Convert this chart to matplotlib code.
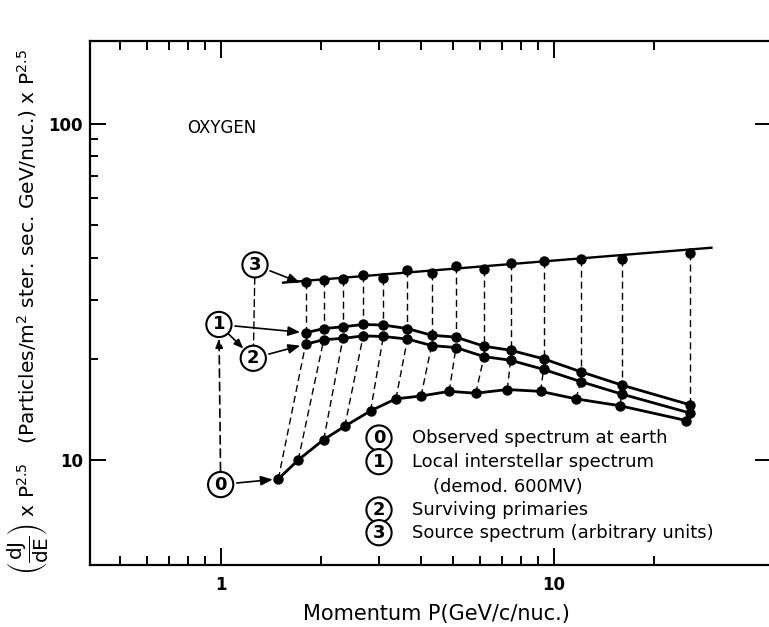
import matplotlib
matplotlib.use("Agg")
import matplotlib.pyplot as plt
from matplotlib.ticker import FixedLocator, FixedFormatter, NullFormatter

# momentum (GeV/c/nuc.) of the interstellar points, shared by curves 1, 2 and 3
p_is = [1.80, 2.04, 2.33, 2.68, 3.08, 3.64, 4.30, 5.09, 6.18, 7.43, 9.33, 12.08, 16.04, 25.66]
# momentum of the same particles once they reach earth
p_obs = [1.49, 1.71, 2.04, 2.36, 2.82, 3.36, 4.00, 4.86, 5.84, 7.26, 9.14, 11.67, 15.82, 25.08]

# (dJ/dE) x P^2.5 for each curve
flux_obs = [8.78, 10.0, 11.5, 12.6, 14.0, 15.2, 15.5, 16.0, 15.8, 16.2, 16.0, 15.2, 14.5, 13.1]
flux_lis = [23.9, 24.6, 24.9, 25.3, 25.2, 24.6, 23.5, 23.2, 21.8, 21.2, 20.0, 18.3, 16.7, 14.6]
flux_surv = [22.1, 22.8, 23.0, 23.4, 23.3, 22.9, 21.9, 21.6, 20.3, 19.8, 18.6, 17.1, 15.7, 13.8]
flux_src = [33.8, 34.2, 34.6, 35.6, 34.7, 36.7, 35.9, 37.8, 37.0, 38.5, 39.2, 39.7, 39.7, 41.4]

# power law drawn through the source points
src_fit_p = [1.54, 29.8]
src_fit_y = [33.7, 42.8]

legend_keys = ["0", "1", "2", "3"]
legend_text = ["Observed spectrum at earth",
               "Local interstellar spectrum",
               "Surviving primaries",
               "Source spectrum (arbitrary units)"]

plt.rcParams["font.family"] = ["DejaVu Sans"]
plt.rcParams["mathtext.fontset"] = "dejavusans"

fig = plt.figure(figsize=(7.69, 6.27), dpi=100)
ax = fig.add_axes([90 / 769, 1 - 565 / 627, 681 / 769, (565 - 40.5) / 627])
ax.set_xscale("log")
ax.set_yscale("log")
ax.set_xlim(0.405, 45)
ax.set_ylim(4.87, 177)

dash = dict(color="black", lw=1.0, ls=(0, (5, 3)), zorder=1)
# source -> interstellar (vertical), surviving -> observed (energy loss)
for i in range(len(p_is)):
    ax.plot([p_is[i], p_is[i]], [flux_src[i], flux_surv[i]], **dash)
    ax.plot([p_obs[i], p_is[i]], [flux_obs[i], flux_surv[i]], **dash)

mk = dict(color="black", marker="o", ms=6.5, zorder=3)
ax.plot(p_obs, flux_obs, lw=2.0, **mk)
ax.plot(p_is, flux_lis, lw=2.0, **mk)
ax.plot(p_is, flux_surv, lw=2.0, **mk)
ax.plot(p_is, flux_src, lw=0, **mk)
ax.plot(src_fit_p, src_fit_y, color="black", lw=1.7, zorder=2)

circ = dict(boxstyle="circle,pad=0.2", fc="white", ec="black", lw=1.5)
head = dict(arrowstyle="-|>,head_length=0.55,head_width=0.22", color="black", lw=1.2)
txt = dict(ha="center", va="center", fontsize=13, fontweight="bold", bbox=circ, zorder=5)

c0 = (1.0, 8.45)
c1 = (0.988, 25.3)
c2 = (1.253, 20.07)
c3 = (1.268, 38.06)

ax.annotate("0", xy=(p_obs[0], flux_obs[0]), xytext=c0,
            arrowprops=dict(shrinkB=4, **head), **txt)
ax.annotate("1", xy=(p_is[0], flux_lis[0]), xytext=c1,
            arrowprops=dict(shrinkB=4, **head), **txt)
ax.annotate("2", xy=(p_is[0], flux_surv[0]), xytext=c2,
            arrowprops=dict(shrinkB=4, **head), **txt)
ax.annotate("3", xy=(1.73, 33.7), xytext=c3,
            arrowprops=dict(shrinkB=0, **head), **txt)
# 1 -> 2 and 0 -> 1 connectors
ax.annotate("", xy=c2, xytext=c1,
            arrowprops=dict(shrinkA=10, shrinkB=10, **head))
ax.annotate("", xy=c1, xytext=c0,
            arrowprops=dict(shrinkA=10, shrinkB=10, ls=(0, (5, 3)), **head))
ax.annotate("", xy=c2, xytext=c3,
            arrowprops=dict(arrowstyle="-", color="black", lw=1.0,
                            ls=(0, (5, 3)), shrinkA=9, shrinkB=9))

ax.text(0.1424, 0.833, "OXYGEN", transform=ax.transAxes, fontsize=12,
        ha="left", va="center")

# key
rows = [0.2421, 0.1970, 0.1049, 0.0616]
for key, label, y in zip(legend_keys, legend_text, rows):
    ax.text(0.4244, y, key, transform=ax.transAxes, **txt)
    ax.text(0.4728, y, label, transform=ax.transAxes, fontsize=13,
            ha="left", va="center")
ax.text(0.5037, 0.1493, "(demod. 600MV)", transform=ax.transAxes,
        fontsize=13, ha="left", va="center")

ax.xaxis.set_major_locator(FixedLocator([1, 10]))
ax.xaxis.set_major_formatter(FixedFormatter(["1", "10"]))
ax.xaxis.set_minor_locator(FixedLocator([0.5, 0.6, 0.7, 0.8, 0.9, 2, 3, 4, 5, 6, 7, 8, 9, 20]))
ax.xaxis.set_minor_formatter(NullFormatter())
ax.yaxis.set_major_locator(FixedLocator([10, 100]))
ax.yaxis.set_major_formatter(FixedFormatter(["10", "100"]))
ax.yaxis.set_minor_locator(FixedLocator([20, 30, 40, 50, 60, 70, 80, 90]))
ax.yaxis.set_minor_formatter(NullFormatter())

ax.tick_params(which="both", direction="in", top=True, right=True, width=1.4)
ax.tick_params(axis="x", which="major", length=12.5, pad=8)
ax.tick_params(axis="x", which="minor", length=6.5)
ax.tick_params(axis="y", which="major", length=11.5, pad=5)
ax.tick_params(axis="y", which="minor", length=6, right=False)
for lab in ax.get_xticklabels() + ax.get_yticklabels():
    lab.set_fontsize(12)
    lab.set_fontweight("bold")
for s in ax.spines.values():
    s.set_linewidth(1.6)

fig.text(436 / 769, 1 - 614 / 627, "Momentum P(GeV/c/nuc.)", fontsize=15,
         ha="center", va="center")
fig.text(28 / 769, 1 - 312 / 627,
         r"$\left(\dfrac{\mathrm{dJ}}{\mathrm{dE}}\right)$ x P$^{2.5}$   "
         r"(Particles/m$^2$ ster. sec. GeV/nuc.) x P$^{2.5}$",
         rotation=90, ha="center", va="center", fontsize=14.5)

fig.savefig("out.png", dpi=100)
